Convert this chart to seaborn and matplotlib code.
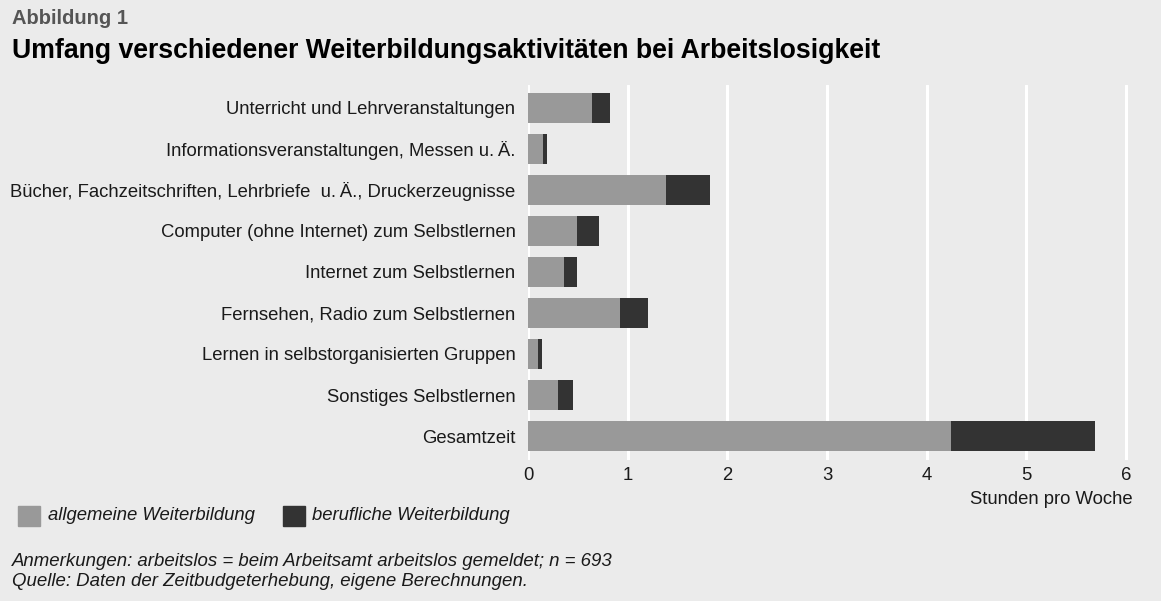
import pandas as pd
import seaborn as sns
import matplotlib.pyplot as plt
from matplotlib.patches import Rectangle

categories = [
    "Unterricht und Lehrveranstaltungen",
    "Informationsveranstaltungen, Messen u.\u2009Ä.",
    "Bücher, Fachzeitschriften, Lehrbriefe  u.\u2009Ä., Druckerzeugnisse",
    "Computer (ohne Internet) zum Selbstlernen",
    "Internet zum Selbstlernen",
    "Fernsehen, Radio zum Selbstlernen",
    "Lernen in selbstorganisierten Gruppen",
    "Sonstiges Selbstlernen",
    "Gesamtzeit",
]
allgemein = [0.64, 0.15, 1.38, 0.49, 0.36, 0.92, 0.10, 0.30, 4.24]
beruflich = [0.18, 0.04, 0.45, 0.22, 0.13, 0.28, 0.04, 0.15, 1.45]
x_ticks = [0, 1, 2, 3, 4, 5, 6]

BG = "#ebebeb"
GRAY = "#999999"
DARK = "#333333"
TXT = "#1a1a1a"

data = pd.DataFrame({"Kategorie": categories, "allgemein": allgemein, "beruflich": beruflich})
data["gesamt"] = data["allgemein"] + data["beruflich"]

sns.set_theme(style="white")
plt.rcParams["font.family"] = ["Liberation Sans", "DejaVu Sans"]

fig = plt.figure(figsize=(11.61, 6.01), dpi=100, facecolor=BG)
ax = fig.add_axes([528 / 1161, 1 - 460 / 601, 613 / 1161, 375 / 601])
ax.set_facecolor(BG)

# gestapelt: erst Gesamtlänge dunkel, darüber der allgemeine Anteil hell
sns.barplot(data=data, x="gesamt", y="Kategorie", color=DARK, orient="h",
            width=0.73, saturation=1, linewidth=0, ax=ax, zorder=2)
sns.barplot(data=data, x="allgemein", y="Kategorie", color=GRAY, orient="h",
            width=0.73, saturation=1, linewidth=0, ax=ax, zorder=3)

ax.set_xlim(0, 6.15)
ax.set_ylim(8.585, -0.56)
ax.set_xticks(x_ticks)
ax.set_xticklabels([str(t) for t in x_ticks])
for t in x_ticks:
    ax.axvline(t, color="white", lw=2.2, zorder=1)
for s in ax.spines.values():
    s.set_visible(False)
ax.tick_params(axis="both", length=0, labelsize=13.3, colors=TXT)
ax.tick_params(axis="y", pad=9)
ax.tick_params(axis="x", pad=5)
ax.set_xlabel("")
ax.set_ylabel("")

fig.text(12 / 1161, 1 - 19 / 601, "Abbildung 1", fontsize=14.5, fontweight="bold",
         color="#555555", va="center", ha="left")
fig.text(12 / 1161, 1 - 51 / 601,
         "Umfang verschiedener Weiterbildungsaktivitäten bei Arbeitslosigkeit",
         fontsize=19.2, fontweight="bold", color="black", va="center", ha="left")
fig.text(1133 / 1161, 1 - 500 / 601, "Stunden pro Woche", fontsize=13.3,
         color=TXT, va="center", ha="right")

# Legende
fig.patches.append(Rectangle((18 / 1161, 1 - 526 / 601), 22 / 1161, 20 / 601,
                             transform=fig.transFigure, color=GRAY, figure=fig))
fig.text(48 / 1161, 1 - 516 / 601, "allgemeine Weiterbildung", fontsize=13.3,
         style="italic", color=TXT, va="center", ha="left")
fig.patches.append(Rectangle((283 / 1161, 1 - 526 / 601), 22 / 1161, 20 / 601,
                             transform=fig.transFigure, color=DARK, figure=fig))
fig.text(312 / 1161, 1 - 516 / 601, "berufliche Weiterbildung", fontsize=13.3,
         style="italic", color=TXT, va="center", ha="left")

fig.text(12 / 1161, 1 - 561 / 601,
         "Anmerkungen: arbeitslos = beim Arbeitsamt arbeitslos gemeldet; n = 693",
         fontsize=13.4, style="italic", color=TXT, va="center", ha="left")
fig.text(12 / 1161, 1 - 582 / 601,
         "Quelle: Daten der Zeitbudgeterhebung, eigene Berechnungen.",
         fontsize=13.4, style="italic", color=TXT, va="center", ha="left")

fig.savefig("out.png", dpi=100, facecolor=BG)
